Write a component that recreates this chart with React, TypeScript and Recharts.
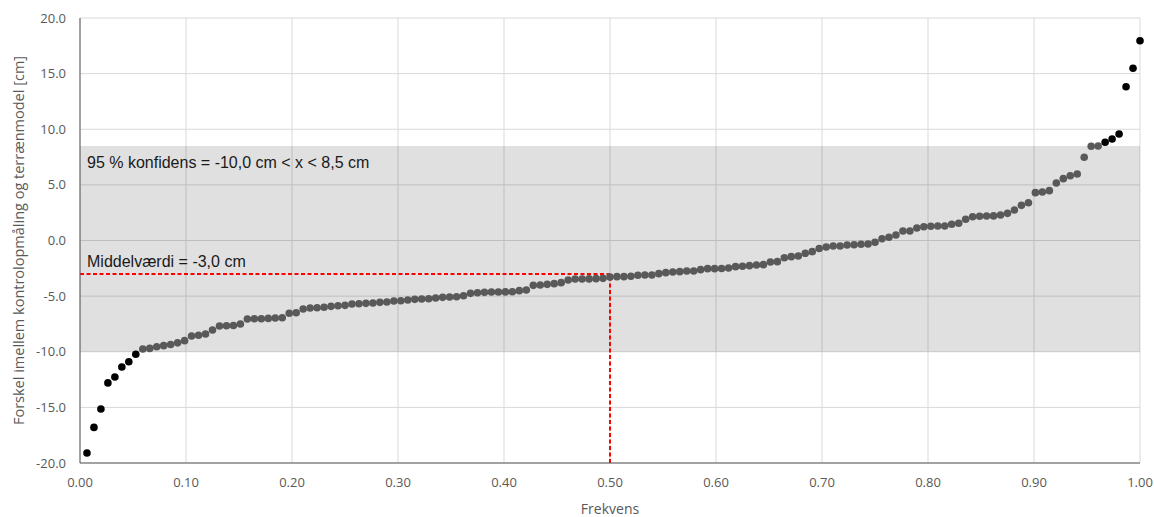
import { ScatterChart, Scatter, XAxis, YAxis, CartesianGrid, ReferenceArea, ReferenceLine } from 'recharts';

// sorted differences [cm], one per control point
const DIFFS = [
  -19.1, -16.8, -15.15, -12.8, -12.27, -11.37, -10.9, -10.23, -9.75, -9.7,
  -9.55, -9.45, -9.35, -9.2, -9.0, -8.58, -8.52, -8.4, -8.04, -7.69,
  -7.66, -7.64, -7.5, -7.06, -7.03, -7.03, -7.0, -6.97, -6.94, -6.54,
  -6.49, -6.16, -6.07, -6.04, -6.0, -5.92, -5.86, -5.83, -5.71, -5.68,
  -5.65, -5.62, -5.56, -5.53, -5.44, -5.41, -5.35, -5.29, -5.26, -5.23,
  -5.17, -5.11, -5.08, -5.05, -4.96, -4.75, -4.69, -4.66, -4.63, -4.63,
  -4.62, -4.6, -4.51, -4.45, -4.03, -4.0, -3.94, -3.88, -3.79, -3.55,
  -3.46, -3.46, -3.45, -3.43, -3.4, -3.28, -3.25, -3.25, -3.22, -3.13,
  -3.1, -3.1, -2.98, -2.89, -2.83, -2.8, -2.74, -2.74, -2.62, -2.53,
  -2.53, -2.52, -2.47, -2.35, -2.32, -2.26, -2.2, -2.17, -1.93, -1.9,
  -1.55, -1.45, -1.39, -1.15, -1.0, -0.72, -0.58, -0.49, -0.49, -0.4,
  -0.38, -0.34, -0.31, -0.16, 0.16, 0.29, 0.49, 0.85, 0.86, 1.12,
  1.24, 1.28, 1.3, 1.31, 1.46, 1.55, 1.91, 2.14, 2.18, 2.2,
  2.21, 2.29, 2.44, 2.74, 3.16, 3.4, 4.3, 4.36, 4.48, 5.17,
  5.56, 5.82, 5.98, 7.48, 8.47, 8.49, 8.83, 9.12, 9.57, 13.82,
  15.48, 17.96,
];

const X_TICKS = [0, 0.1, 0.2, 0.3, 0.4, 0.5, 0.6, 0.7, 0.8, 0.9, 1.0];
const Y_TICKS = [-20, -15, -10, -5, 0, 5, 10, 15, 20];

const CONF_LOW = -10.0;
const CONF_HIGH = 8.5;
const MEAN = -3.0;
const MEDIAN_FREQ = 0.5;

const data = DIFFS.map((d, i) => ({ x: (i + 1) / DIFFS.length, y: d }));

const tickStyle = { fill: '#595959', fontSize: 13, fontFamily: '"Open Sans", sans-serif' };
const noteFont = '"Liberation Sans", Arial, sans-serif';

const Dot = (props: any) => {
  const { cx, cy, payload } = props;
  const outside = payload.y < CONF_LOW || payload.y > CONF_HIGH;
  return <circle cx={cx} cy={cy} r={3.8} fill={outside ? '#000000' : '#595959'} />;
};

const BandLabel = ({ viewBox }: any) => (
  <text x={viewBox.x + 7} y={viewBox.y + 22} fill="#1a1a1a" fontSize={16} fontFamily={noteFont}>
    95 % konfidens = -10,0 cm &lt; x &lt; 8,5 cm
  </text>
);

const MeanLabel = ({ viewBox }: any) => (
  <text x={viewBox.x + 7} y={viewBox.y - 7} fill="#1a1a1a" fontSize={16} fontFamily={noteFont}>
    Middelværdi = -3,0 cm
  </text>
);

export default function App() {
  return (
    <div style={{ position: 'absolute', left: 0, top: 0, background: '#fff' }}>
      <ScatterChart width={1154} height={517} margin={{ top: 18, right: 14, bottom: 0, left: 0 }}>
        <CartesianGrid stroke="#d9d9d9" />
        <ReferenceArea y1={CONF_LOW} y2={CONF_HIGH} fill="#000000" fillOpacity={0.12} stroke="none" label={<BandLabel />} />
        <XAxis
          type="number"
          dataKey="x"
          domain={[0, 1]}
          ticks={X_TICKS}
          tickFormatter={(v: number) => v.toFixed(2)}
          tick={tickStyle}
          tickLine={false}
          tickSize={0}
          tickMargin={15}
          height={54}
          stroke="#595959"
          label={{ value: 'Frekvens', position: 'insideBottom', offset: 3, fill: '#595959', fontSize: 14, fontFamily: '"Open Sans", sans-serif' }}
        />
        <YAxis
          type="number"
          dataKey="y"
          domain={[-20, 20]}
          ticks={Y_TICKS}
          tickFormatter={(v: number) => v.toFixed(1)}
          tick={tickStyle}
          tickLine={false}
          tickSize={0}
          tickMargin={14}
          width={80}
          stroke="#595959"
          label={{
            value: 'Forskel imellem kontrolopmåling og terrænmodel [cm]',
            angle: -90,
            position: 'insideLeft',
            offset: 19,
            fill: '#595959',
            fontSize: 14.5,
            fontFamily: '"Open Sans", sans-serif',
            style: { textAnchor: 'middle' },
          }}
        />
        <ReferenceLine
          segment={[{ x: 0, y: MEAN }, { x: MEDIAN_FREQ, y: MEAN }]}
          stroke="#ff0000"
          strokeWidth={2}
          strokeDasharray="4 2.5"
          label={<MeanLabel />}
        />
        <ReferenceLine
          segment={[{ x: MEDIAN_FREQ, y: -20 }, { x: MEDIAN_FREQ, y: MEAN }]}
          stroke="#ff0000"
          strokeWidth={2}
          strokeDasharray="4 2.5"
        />
        <Scatter data={data} shape={<Dot />} isAnimationActive={false} />
      </ScatterChart>
    </div>
  );
}
